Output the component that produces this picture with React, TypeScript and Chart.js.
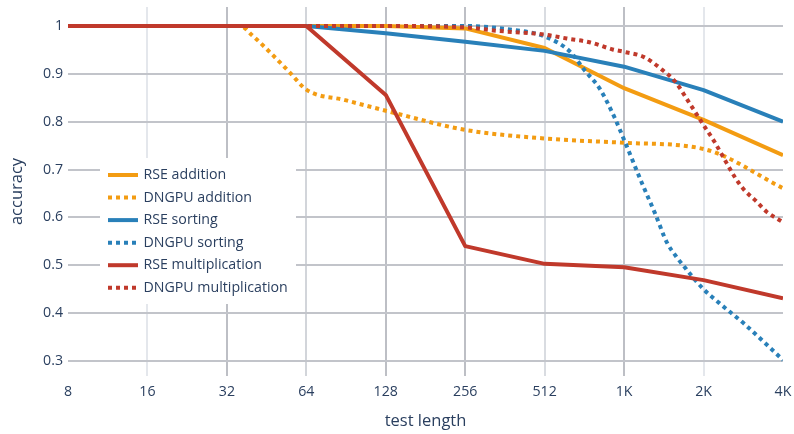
import React, { useEffect, useRef } from 'react';
import { Chart, registerables } from 'chart.js';

Chart.register(...registerables);

// ---- tick values / labels ----
const xTickValues = [8, 16, 32, 64, 128, 256, 512, 1024, 2048, 4096];
const xTickLabels = ['8', '16', '32', '64', '128', '256', '512', '1K', '2K', '4K'];
const yTickValues = [0.3, 0.4, 0.5, 0.6, 0.7, 0.8, 0.9, 1];
const yTickLabels = ['0.3', '0.4', '0.5', '0.6', '0.7', '0.8', '0.9', '1'];

// ---- RSE series (test lengths 8 .. 4K) ----
const rseLengths = [8, 16, 32, 64, 128, 256, 512, 1024, 2048, 4096];
const rseAddition = [1, 1, 1, 1, 1, 0.995, 0.954, 0.87, 0.804, 0.73];
const rseSorting = [1, 1, 1, 1, 0.985, 0.967, 0.948, 0.915, 0.866, 0.8];
const rseMultiplication = [1, 1, 1, 1, 0.856, 0.54, 0.503, 0.496, 0.469, 0.431];

// ---- DNGPU series ----
const dngpuAdditionLengths = [8, 16, 32, 36, 40, 48, 56, 64, 90, 128, 256, 512, 1024, 2048, 4096];
const dngpuAddition = [1, 1, 1, 1, 0.98, 0.938, 0.9, 0.867, 0.845, 0.823, 0.783, 0.765, 0.756, 0.743, 0.661];

const dngpuSortingLengths = [8, 16, 32, 64, 128, 256, 362, 512, 640, 724, 830, 940, 1024, 1200, 1340, 1490, 1610, 1760, 2048, 2350, 2930, 4096];
const dngpuSorting = [1, 1, 1, 1, 1, 1, 0.994, 0.978, 0.946, 0.908, 0.868, 0.81, 0.762, 0.67, 0.609, 0.547, 0.519, 0.492, 0.45, 0.421, 0.377, 0.302];

const dngpuMultiplicationLengths = [8, 16, 32, 64, 128, 256, 338, 512, 620, 758, 927, 1024, 1219, 1439, 1598, 1791, 2048, 2253, 2502, 2685, 2904, 3226, 3549, 4096];
const dngpuMultiplication = [1, 1, 1, 1, 1, 0.997, 0.99, 0.982, 0.974, 0.966, 0.951, 0.946, 0.935, 0.907, 0.884, 0.843, 0.793, 0.758, 0.714, 0.685, 0.659, 0.635, 0.612, 0.59];

const seriesNames = ['RSE addition', 'DNGPU addition', 'RSE sorting', 'DNGPU sorting', 'RSE multiplication', 'DNGPU multiplication'];
const seriesColors = ['#f39c12', '#f39c12', '#2980b9', '#2980b9', '#c0392b', '#c0392b'];

const TEXT = '#2a3f5f';
const FONT = '"Open Sans", "Liberation Sans", sans-serif';

const toPoints = (xs: number[], ys: number[]) => xs.map((x, i) => ({ x, y: ys[i] }));

const xGridColors = ['rgba(0,0,0,0)', '#e4e7ec', '#bdbfc5', '#d2d5da', '#bdbfc5', '#bdbfc5', '#d9dce1', '#bdbfc5', '#e4e7ec', 'rgba(0,0,0,0)'];

const legendPlugin = {
  id: 'insideLegend',
  afterDraw(chart: any) {
    const ctx = chart.ctx;
    ctx.save();
    ctx.fillStyle = '#ffffff';
    ctx.fillRect(100, 158, 196, 146);
    chart.data.datasets.forEach((ds: any, i: number) => {
      const y = 175 + i * 22.55;
      ctx.beginPath();
      ctx.strokeStyle = ds.borderColor;
      ctx.lineWidth = 4;
      ctx.lineCap = 'butt';
      ctx.setLineDash(ds.borderDash || []);
      ctx.moveTo(108, y);
      ctx.lineTo(138, y);
      ctx.stroke();
      ctx.setLineDash([]);
      ctx.fillStyle = TEXT;
      ctx.font = `14.2px ${FONT}`;
      ctx.textBaseline = 'middle';
      ctx.textAlign = 'left';
      ctx.fillText(ds.label, 143.5, y);
    });
    ctx.restore();
  },
};

export default function App() {
  const canvasRef = useRef<HTMLCanvasElement | null>(null);

  useEffect(() => {
    document.body.style.margin = '0';
    const canvas = canvasRef.current;
    if (!canvas) return;

    const seriesData = [
      toPoints(rseLengths, rseAddition),
      toPoints(dngpuAdditionLengths, dngpuAddition),
      toPoints(rseLengths, rseSorting),
      toPoints(dngpuSortingLengths, dngpuSorting),
      toPoints(rseLengths, rseMultiplication),
      toPoints(dngpuMultiplicationLengths, dngpuMultiplication),
    ];

    const datasets = seriesNames.map((name, i) => {
      const dotted = name.startsWith('DNGPU');
      return {
        label: name,
        data: seriesData[i],
        borderColor: seriesColors[i],
        backgroundColor: seriesColors[i],
        borderWidth: 4,
        borderDash: dotted ? [4, 4] : [],
        borderCapStyle: 'butt',
        borderJoinStyle: 'round',
        pointRadius: 0,
        pointHoverRadius: 0,
        fill: false,
        tension: 0,
        cubicInterpolationMode: dotted ? 'monotone' : 'default',
        order: seriesNames.length - i,
      };
    });

    const chart = new Chart(canvas, {
      type: 'line',
      data: { datasets } as any,
      options: {
        animation: false,
        responsive: false,
        devicePixelRatio: 1,
        layout: { padding: { top: 7, right: 11, bottom: 0, left: 0 } },
        plugins: {
          legend: { display: false },
          tooltip: { enabled: false },
        },
        scales: {
          x: {
            type: 'logarithmic',
            min: 8,
            max: 4096,
            afterBuildTicks: (scale: any) => {
              scale.ticks = xTickValues.map((v) => ({ value: v }));
            },
            afterFit: (scale: any) => {
              scale.height = 58;
              scale.paddingLeft = 0;
              scale.paddingRight = 0;
            },
            ticks: {
              autoSkip: false,
              maxRotation: 0,
              padding: 7,
              color: TEXT,
              font: { family: FONT, size: 14.2 },
              callback: (_v: any, idx: number) => xTickLabels[idx],
            },
            grid: {
              drawTicks: false,
              lineWidth: 2,
              color: (c: any) => xGridColors[c.index] ?? '#bdbfc5',
            },
            border: { display: false },
            title: {
              display: true,
              text: 'test length',
              color: TEXT,
              font: { family: FONT, size: 16.5 },
              padding: { top: 0, bottom: 2.5 },
            },
          },
          y: {
            type: 'linear',
            min: 0.2687,
            max: 1.0397,
            afterBuildTicks: (scale: any) => {
              scale.ticks = yTickValues.map((v) => ({ value: v }));
            },
            afterFit: (scale: any) => {
              scale.width = 68;
              scale.paddingTop = 0;
              scale.paddingBottom = 0;
            },
            ticks: {
              padding: 5,
              color: TEXT,
              font: { family: FONT, size: 14.2 },
              callback: (_v: any, idx: number) => yTickLabels[idx],
            },
            grid: {
              drawTicks: false,
              lineWidth: 2,
              color: '#c2c4ca',
            },
            border: { display: false },
            title: {
              display: true,
              text: 'accuracy',
              color: TEXT,
              font: { family: FONT, size: 16.5 },
              padding: { top: 7, bottom: 0 },
            },
          },
        },
      } as any,
      plugins: [legendPlugin],
    });

    return () => chart.destroy();
  }, []);

  return (
    <div style={{ position: 'absolute', left: 0, top: 0, width: 794, height: 434, background: '#ffffff' }}>
      <canvas ref={canvasRef} width={794} height={434} style={{ width: 794, height: 434, display: 'block' }} />
    </div>
  );
}
